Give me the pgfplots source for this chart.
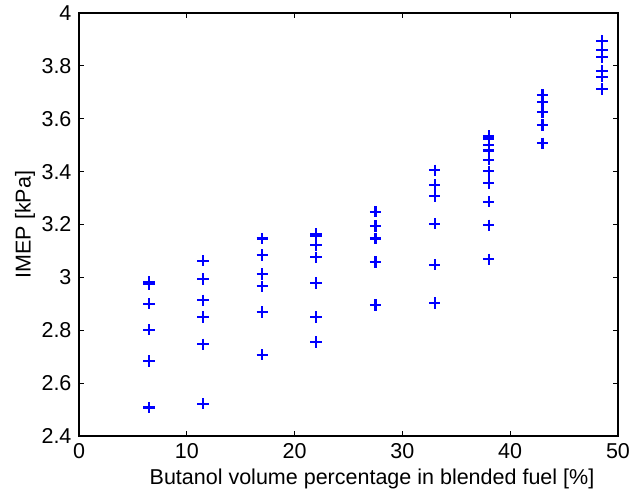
\documentclass[border=0pt]{standalone}
\usepackage{fontspec}
\setmainfont{Liberation Sans}
\usepackage{pgfplots}
\pgfplotsset{compat=1.18}
\begin{document}
\begin{tikzpicture}
\begin{axis}[
  at={(0,0)}, anchor=south west,
  scale only axis,
  width=323.4pt, height=253.8pt,
  xmin=0, xmax=50, ymin=2.4, ymax=4,
  xtick={0,10,...,50},
  ytick={2.4,2.6,...,4.0},
  yticklabels={2.4,2.6,2.8,3,3.2,3.4,3.6,3.8,4},
  tick align=inside,
  major tick length=3pt,
  tick style={black, line width=0.5pt},
  axis line style={black, line width=0.7pt},
  /pgf/number format/assume math mode=true,
  tick label style={font=\fontsize{12.9}{14}\selectfont},
  xticklabel style={yshift=-1pt},
  yticklabel style={xshift=-1pt},
  label style={font=\fontsize{12.9}{14}\selectfont},
  xlabel={Butanol volume percentage in blended fuel [\%]},
  ylabel={IMEP [kPa]},
  xlabel style={at={(axis description cs:0.5436,0)}, anchor=center, yshift=-25.8pt},
  every axis y label/.append style={at={(axis description cs:-0.1,0.5)}, anchor=center},
]
\addplot[only marks, mark=+, mark size=3.4pt, color={rgb,255:red,0;green,0;blue,255}, line width=1.3pt] table {
x y
6.5 2.983
6.5 2.975
6.5 2.900
6.5 2.802
6.5 2.684
6.5 2.508
11.5 3.063
11.5 2.994
11.5 2.913
11.5 2.850
11.5 2.747
11.5 2.522
17 3.147
17 3.084
17 3.013
17 2.966
17 2.869
17 2.707
22 3.165
22 3.155
22 3.121
22 3.076
22 2.979
22 2.850
22 2.756
27.5 3.248
27.5 3.194
27.5 3.147
27.5 3.058
27.5 2.896
33 3.405
33 3.349
33 3.307
33 3.203
33 3.048
33 2.903
38 3.535
38 3.525
38 3.500
38 3.480
38 3.445
38 3.401
38 3.357
38 3.286
38 3.197
38 3.068
43 3.690
43 3.662
43 3.624
43 3.576
43 3.507
48.5 3.894
48.5 3.859
48.5 3.832
48.5 3.780
48.5 3.759
48.5 3.713
};
\end{axis}
\pgfresetboundingbox
\path (-47.4pt,-34.2pt) rectangle (337.2pt,261.6pt);
\end{tikzpicture}
\end{document}
